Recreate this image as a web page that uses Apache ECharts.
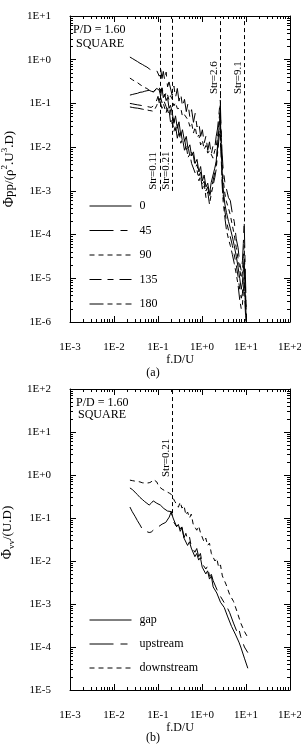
<!DOCTYPE html>
<html><head><meta charset="utf-8">
<script src="https://cdn.jsdelivr.net/npm/echarts@6/dist/echarts.min.js"></script>
<style>html,body{margin:0;padding:0;background:#fff}#c{width:301px;height:746px}</style>
</head><body><div id="c"></div>
<script>
// ---------- panel (a) : pressure spectra ----------
const freqA = [0.023,0.026,0.03,0.034,0.039,0.044,0.05,0.056,0.063,0.07,0.078,0.086,0.094,0.1,0.107,0.115,0.123,0.132,0.142,0.153,0.165,0.178,0.192,0.21,0.23,0.25,0.275,0.3,0.33,0.36,0.4,0.44,0.48,0.53,0.58,0.64,0.7,0.77,0.85,0.93,1.02,1.12,1.23,1.35,1.48,1.62,1.78,1.95,2.1,2.25,2.4,2.5,2.6,2.7,2.85,3.0,3.3,3.6,4.0,4.4,4.9,5.4,6.0,6.6,7.2,7.8,8.3,8.7,9.1,9.5,9.9,10.2];
const phi0 = [0.155,0.16,0.166,0.17,0.18,0.182,0.19,0.195,0.20,0.19,0.186,0.20,0.22,0.24,0.20,0.148,0.228,0.135,0.163,0.116,0.137,7.7e-2,9.1e-2,6.3e-2,3.5e-2,5.2e-2,2.7e-2,3.8e-2,1.84e-2,2.5e-2,1.36e-2,1.76e-2,9.2e-3,1.13e-2,6.3e-3,7.8e-3,4.25e-3,5.25e-3,2.7e-3,3.6e-3,1.68e-3,2.3e-3,1.23e-3,1.5e-3,8.3e-4,1.56e-3,1.57e-3,3.3e-3,4.7e-3,1.05e-2,2.3e-2,4.0e-2,6.3e-2,1.6e-2,3.2e-3,1.26e-3,5.0e-4,3.2e-4,2.0e-4,1.4e-4,8.9e-5,5.6e-5,3.2e-5,1.8e-5,1.0e-5,5.6e-6,7.9e-6,1.6e-5,2.8e-5,6.3e-6,2.0e-6,1.05e-6];
const phi45 = [1.15,1.07,0.98,0.91,0.83,0.78,0.72,0.68,0.62,0.58,0.55,0.58,0.56,0.54,0.42,0.62,0.37,0.54,0.34,0.52,0.24,0.31,0.30,0.152,0.25,0.136,0.22,0.113,0.166,8.4e-2,0.124,6.5e-2,0.10,4.8e-2,7.2e-2,3.7e-2,5.9e-2,2.9e-2,3.6e-2,1.76e-2,2.5e-2,1.23e-2,1.8e-2,8.4e-3,1.32e-2,6.7e-3,1.09e-2,9.5e-3,1.76e-2,2.6e-2,5.0e-2,7.9e-2,1.2e-1,3.2e-2,7.9e-3,3.5e-3,1.6e-3,1.1e-3,7.0e-4,6.0e-4,3.0e-4,2.0e-4,8.0e-5,5.0e-5,2.2e-5,1.5e-5,2.5e-5,6.3e-5,2.0e-4,2.5e-5,5.0e-6,1.26e-6];
const phi90 = [0.38,0.35,0.32,0.30,0.27,0.25,0.23,0.22,0.20,0.19,0.18,0.20,0.23,0.22,0.23,0.168,0.22,0.176,0.144,0.18,0.156,0.12,0.15,0.126,8.8e-2,0.104,7.6e-2,8.3e-2,7.8e-2,5.0e-2,5.5e-2,5.25e-2,4.2e-2,3.0e-2,3.6e-2,2.1e-2,2.9e-2,1.7e-2,1.9e-2,1.12e-2,1.43e-2,8.9e-3,1.09e-2,7.3e-3,8.3e-3,7.5e-3,5.6e-3,8.4e-3,1.0e-2,1.66e-2,3.2e-2,5.6e-2,8.9e-2,2.0e-2,4.5e-3,2.0e-3,8.9e-4,5.6e-4,4.0e-4,2.8e-4,1.6e-4,1.0e-4,5.0e-5,2.8e-5,1.6e-5,1.0e-5,1.4e-5,3.2e-5,5.6e-5,1.26e-5,3.2e-6,1.1e-6];
const phi135 = [0.10,9.8e-2,9.5e-2,9.3e-2,9.1e-2,8.9e-2,8.7e-2,8.5e-2,8.3e-2,8.1e-2,8.7e-2,0.10,0.12,0.145,0.102,0.138,0.104,0.126,0.118,8.4e-2,9.1e-2,5.6e-2,7.2e-2,3.4e-2,4.5e-2,2.4e-2,3.6e-2,1.87e-2,2.3e-2,1.33e-2,1.56e-2,8.8e-3,1.09e-2,6.1e-3,7.6e-3,6.2e-3,3.4e-3,4.0e-3,2.2e-3,2.7e-3,1.44e-3,1.66e-3,1.0e-3,1.24e-3,7.0e-4,1.09e-3,1.17e-3,2.6e-3,4.0e-3,8.7e-3,1.8e-2,2.8e-2,4.0e-2,1.1e-2,2.2e-3,8.9e-4,3.5e-4,2.0e-4,1.26e-4,8.9e-5,5.6e-5,3.5e-5,2.0e-5,1.1e-5,5.6e-6,3.5e-6,4.5e-6,1.0e-5,1.6e-5,4.0e-6,1.4e-6,1.02e-6];
const phi180 = [8.3e-2,8.1e-2,7.9e-2,7.8e-2,7.6e-2,7.4e-2,7.2e-2,7.1e-2,6.9e-2,6.8e-2,6.6e-2,7.6e-2,9.1e-2,0.11,0.13,0.12,7.7e-2,9.9e-2,9.9e-2,6.1e-2,8.3e-2,7.2e-2,3.8e-2,4.3e-2,2.3e-2,3.1e-2,1.6e-2,2.3e-2,1.23e-2,1.58e-2,8.5e-3,1.08e-2,5.8e-3,6.9e-3,4.25e-3,4.7e-3,2.56e-3,3.0e-3,1.7e-3,2.2e-3,1.1e-3,1.5e-3,7.0e-4,9.5e-4,4.9e-4,8.4e-4,9.0e-4,2.0e-3,3.1e-3,6.9e-3,1.38e-2,2.0e-2,2.8e-2,7.9e-3,1.6e-3,6.3e-4,2.5e-4,1.26e-4,7.9e-5,5.6e-5,3.5e-5,2.2e-5,1.26e-5,7.1e-6,3.2e-6,2.0e-6,2.5e-6,5.0e-6,8.9e-6,2.5e-6,1.1e-6,1.0e-6];
const namesA = ['0','45','90','135','180'];
const strA = [0.11, 0.21, 2.6, 9.1];

// ---------- panel (b) : transverse velocity spectra ----------
const freqB = [0.023,0.026,0.03,0.034,0.039,0.044,0.05,0.056,0.063,0.07,0.078,0.086,0.094,0.103,0.113,0.124,0.136,0.15,0.165,0.18,0.2,0.22,0.24,0.265,0.29,0.32,0.35,0.39,0.43,0.47,0.52,0.57,0.63,0.69,0.76,0.84,0.92,1.01,1.11,1.22,1.34,1.48,1.63,1.79,1.97,2.17,2.39,2.63,2.9,3.2,3.5,3.85,4.25,4.7,5.2,5.7,6.3,6.9,7.6,8.4,9.2,10.1,11.0];
const gapVV = [0.50,0.46,0.40,0.35,0.30,0.27,0.24,0.22,0.20,0.22,0.25,0.24,0.22,0.23,0.20,0.19,0.166,0.18,0.145,0.16,0.141,0.10,0.11,6.3e-2,7.1e-2,4.9e-2,5.9e-2,3.4e-2,3.5e-2,2.3e-2,2.8e-2,2.0e-2,2.2e-2,1.26e-2,1.5e-2,1.05e-2,1.2e-2,7.2e-3,7.6e-3,5.0e-3,5.9e-3,3.8e-3,4.5e-3,2.5e-3,2.6e-3,1.8e-3,2.0e-3,1.1e-3,1.2e-3,8.3e-4,8.5e-4,5.0e-4,5.1e-4,3.0e-4,3.0e-4,2.0e-4,1.8e-4,1.3e-4,1.0e-4,9.5e-5,5.5e-5,5.4e-5,3.2e-5];
const upVV = [0.18,0.14,0.11,8.7e-2,6.9e-2,5.5e-2,5.0e-2,4.8e-2,4.6e-2,4.7e-2,5.2e-2,5.8e-2,6.0e-2,6.3e-2,6.9e-2,7.2e-2,7.6e-2,7.9e-2,8.3e-2,0.105,0.141,8.5e-2,9.3e-2,6.3e-2,7.8e-2,5.5e-2,6.2e-2,3.5e-2,4.4e-2,3.1e-2,3.6e-2,2.2e-2,2.4e-2,1.6e-2,1.95e-2,1.26e-2,1.5e-2,8.7e-3,9.1e-3,6.5e-3,7.6e-3,4.4e-3,4.9e-3,3.5e-3,3.6e-3,2.2e-3,2.4e-3,1.5e-3,1.55e-3,1.07e-3,1.0e-3,7.8e-4,6.3e-4,6.2e-4,3.6e-4,3.6e-4,2.2e-4,2.6e-4,1.74e-4,1.8e-4,1.0e-4,1.1e-4,7.4e-5];
const downVV = [0.76,0.74,0.72,0.71,0.69,0.66,0.65,0.65,0.66,0.69,0.79,0.85,0.69,0.55,0.50,0.47,0.45,0.42,0.40,0.38,0.355,0.38,0.245,0.27,0.178,0.234,0.17,0.195,0.117,0.138,0.10,0.123,7.2e-2,7.8e-2,5.2e-2,6.5e-2,4.6e-2,5.0e-2,2.8e-2,3.4e-2,2.3e-2,2.6e-2,1.5e-2,1.55e-2,1.0e-2,1.15e-2,7.1e-3,8.1e-3,4.5e-3,4.4e-3,2.9e-3,3.2e-3,1.66e-3,1.74e-3,1.15e-3,1.12e-3,6.5e-4,6.5e-4,3.6e-4,3.5e-4,2.3e-4,2.1e-4,1.66e-4];
const namesB = ['gap','upstream','downstream'];
const strB = [0.21];

// ---------- tick values ----------
const xMajor = [1e-3,1e-2,1e-1,1,10,100];
const yMajorA = [1e-6,1e-5,1e-4,1e-3,1e-2,1e-1,1,10];
const yMajorB = [1e-5,1e-4,1e-3,1e-2,1e-1,1,10,100];

const FF = "'Liberation Serif','Times New Roman',serif";
function minors(majors){const o=[];for(let i=0;i<majors.length-1;i++){for(let m=2;m<=9;m++)o.push(+(majors[i]*m).toPrecision(3));}return o;}
function fmtE(v){const e=Math.round(Math.log10(v));return '1E'+(e<0?'-':'+')+Math.abs(e);}

function axisSet(dim,g,majors,labelled,extra){
  const base={type:'log',logBase:10,gridIndex:g,min:majors[0],max:majors[majors.length-1],splitLine:{show:false},axisPointer:{show:false},silent:true};
  const pos=dim==='x'?['bottom','top']:['left','right'];
  const out=[];
  pos.forEach((p,k)=>{
    out.push(Object.assign({},base,{position:p,
      axisLine:{show:true,onZero:false,lineStyle:{color:'#000',width:1}},
      axisTick:{show:true,inside:true,length:6,customValues:majors,lineStyle:{color:'#000',width:1}},
      axisLabel:{show:labelled&&k===0,customValues:majors,formatter:fmtE,color:'#000',fontFamily:FF,fontSize:11,margin:dim==='x'?20:19}
    },k===0?extra:{}));
    out.push(Object.assign({},base,{position:p,
      axisLine:{show:false},
      axisTick:{show:true,inside:true,length:3,customValues:minors(majors),lineStyle:{color:'#000',width:1}},
      axisLabel:{show:false}}));
  });
  return out;
}

const dashA = ['solid',[24,7,7,7],[5,4],[12,6,6,6],[14,4,5,4,5,4]];
const dashB = ['solid',[24,7,7,7],[5,4]];
const serA = [phi0,phi45,phi90,phi135,phi180];
const serB = [gapVV,upVV,downVV];

const lblStyle = {color:'#000',fontFamily:FF,fontSize:11,distance:1};
function strLine(x, yStart, yEnd, text){
  const first={coord:[x,yStart]};
  if(text){first.label=Object.assign({show:true,formatter:text,position:'insideStartTop'},lblStyle);}
  else{first.label={show:false};}
  return [first,{coord:[x,yEnd]}];
}

const series=[];
serA.forEach((arr,i)=>{
  const s={name:namesA[i],type:'line',xAxisIndex:0,yAxisIndex:0,symbol:'none',showSymbol:false,animation:false,silent:true,
    lineStyle:{color:'#000',width:1,type:dashA[i]},itemStyle:{color:'#000'},
    data:freqA.map((f,j)=>[f,arr[j]])};
  if(i===0){
    s.markLine={silent:true,animation:false,symbol:['none','none'],lineStyle:{color:'#000',width:1,type:[4,3]},label:{show:false},
      data:[
        strLine(strA[0],1e-3,10,'Str='+strA[0]),
        strLine(strA[1],1e-3,10,'Str='+strA[1]),
        strLine(strA[2],0.155,10,'Str='+strA[2]),
        strLine(strA[2],1e-2,0.155,null),
        strLine(strA[3],0.155,10,'Str='+strA[3]),
        strLine(strA[3],2e-4,0.155,null)
      ]};
  }
  series.push(s);
});
serB.forEach((arr,i)=>{
  const s={name:namesB[i],type:'line',xAxisIndex:4,yAxisIndex:4,symbol:'none',showSymbol:false,animation:false,silent:true,
    lineStyle:{color:'#000',width:1,type:dashB[i]},itemStyle:{color:'#000'},
    data:freqB.map((f,j)=>[f,arr[j]])};
  if(i===0){
    s.markLine={silent:true,animation:false,symbol:['none','none'],lineStyle:{color:'#000',width:1,type:[4,3]},label:{show:false},
      data:[
        strLine(strB[0],0.85,100,'Str='+strB[0]),
        strLine(strB[0],0.13,0.85,null)
      ]};
  }
  series.push(s);
});

const nameA='{p|Φ}{n|pp/(ρ}{u|2}{n|.U}{u|3}{n|.D)}';
const nameB='{p|Φ}{d|vv}{n|/(U.D)}';
const rich={p:{fontSize:14,fontFamily:FF,color:'#000',lineHeight:18},
  n:{fontSize:13,fontFamily:FF,color:'#000',lineHeight:18},
  u:{fontSize:9,fontFamily:FF,color:'#000',lineHeight:18,verticalAlign:'top'},
  d:{fontSize:9,fontFamily:FF,color:'#000',lineHeight:18,verticalAlign:'bottom'}};
const xName={name:'f.D/U',nameLocation:'middle',nameGap:31,nameTextStyle:{fontFamily:FF,fontSize:12,color:'#000'}};

const xAxis=[].concat(axisSet('x',0,xMajor,true,xName),axisSet('x',1,xMajor,true,xName));
const yAxis=[].concat(
  axisSet('y',0,yMajorA,true,{name:nameA,nameLocation:'middle',nameGap:48,nameRotate:90,nameTextStyle:{rich:rich}}),
  axisSet('y',1,yMajorB,true,{name:nameB,nameLocation:'middle',nameGap:48,nameRotate:90,nameTextStyle:{rich:rich,padding:[0,0,0,14]}}));

const legendBase={orient:'vertical',left:84,itemWidth:42,itemHeight:13,selectedMode:false,
  lineStyle:{width:1},
  itemStyle:{opacity:0},textStyle:{fontFamily:FF,fontSize:12,color:'#000',padding:[0,0,0,3]}};

const option={
  animation:false,
  backgroundColor:'#fff',
  grid:[{left:70,right:11,top:16,height:306,containLabel:false,outerBoundsMode:'none'},
        {left:70,right:11,top:389,height:301,containLabel:false,outerBoundsMode:'none'}],
  xAxis:xAxis, yAxis:yAxis,
  legend:[Object.assign({},legendBase,{top:195,itemGap:12.5,data:namesA}),
          Object.assign({},legendBase,{top:609,itemGap:12,data:namesB})],
  graphic:[
    {type:'text',left:73,top:24,style:{text:'P/D = 1.60',font:'12px '+FF,fill:'#000'}},
    {type:'text',left:76,top:38,style:{text:'SQUARE',font:'12px '+FF,fill:'#000'}},
    {type:'text',x:153,y:373,style:{text:'(a)',font:'12px '+FF,fill:'#000',align:'center',verticalAlign:'middle'}},
    {type:'text',left:76,top:397,style:{text:'P/D = 1.60',font:'12px '+FF,fill:'#000'}},
    {type:'text',left:78,top:409,style:{text:'SQUARE',font:'12px '+FF,fill:'#000'}},
    {type:'text',x:153,y:738,style:{text:'(b)',font:'12px '+FF,fill:'#000',align:'center',verticalAlign:'middle'}}
  ],
  series:series
};
const chart=echarts.init(document.getElementById('c'),null,{renderer:'canvas'});
chart.setOption(option);
</script>
</body></html>
